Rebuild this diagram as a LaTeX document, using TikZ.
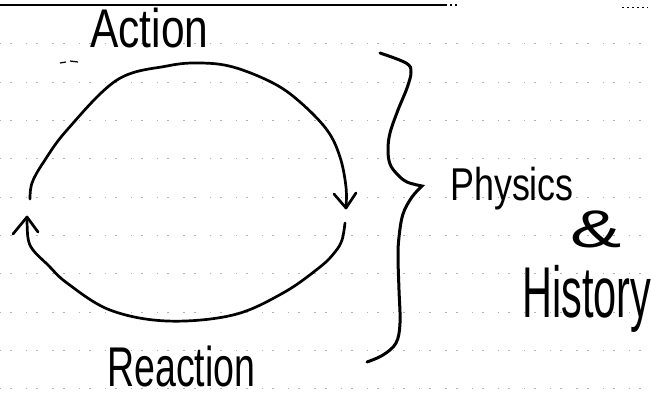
\documentclass[tikz,border=0pt]{standalone}
\usepackage{fontspec}
\setmainfont{Liberation Sans}
\tikzset{
  ink/.style={line width=2.7pt, line cap=round, line join=round, black},
  bracestroke/.style={line width=3pt, line cap=round, line join=miter, black},
  paperline/.style={black!30, line width=0.7pt, dash pattern=on 1.2pt off 9pt on 2pt off 14pt},
  word/.style={inner sep=0pt, anchor=base west},
}
\begin{document}
\begin{tikzpicture}[x=1pt,y=-1pt]
\useasboundingbox (0,0) rectangle (651,397);
% lined paper
\foreach \yy in {43,82,120,158,197,235,273,312,350,388}
  \draw[paperline] (0,\yy) -- (651,\yy);
\draw[line width=1.5pt] (0,5) -- (445,5);
\draw[line width=1.2pt, dash pattern=on 2pt off 3pt] (445,5) -- (458,5);
\draw[line width=1pt, dash pattern=on 2pt off 3pt] (622,7) -- (648,7);
\draw[line width=1.2pt] (60,63) -- (66,62) (70,61) -- (78,62);
% labels
\node[word] (action) at (90,47) {\fontsize{54.5}{60}\selectfont\scalebox{0.78}[1]{Action}};
\node[word] (reaction) at (107,386) {\fontsize{56}{60}\selectfont\scalebox{0.67}[1]{Reaction}};
\node[word] (physics) at (450,200) {\fontsize{46}{50}\selectfont\scalebox{0.78}[1]{Physics}};
\node[word] (amp) at (570,247) {\fontsize{53}{56}\selectfont\scalebox{1.45}[1]{\&}};
\node[word] (history) at (522,317) {\fontsize{72}{76}\selectfont\scalebox{0.576}[1]{History}};
% cycle
\coordinate (topstart) at (30,199);
\coordinate (topend) at (346,208);
\coordinate (botstart) at (345,223);
\coordinate (botend) at (27,217);
\draw[ink] plot[smooth, tension=0.6] coordinates {(topstart) (32,183) (43,163) (67,130) (117,80) (167,66) (200,63) (233,67) (273,83) (300,102) (327,130) (340,157) (346,187) (topend)};
\draw[ink] (334,194) -- (topend) -- (356,193);
\draw[ink] plot[smooth, tension=0.6] coordinates {(botstart) (342,240) (335,252) (320,267) (283,293) (233,315) (167,321) (110,310) (67,283) (48,265) (33,250) (28,238) (botend)};
\draw[ink] (13,234) -- (botend) -- (38,232);
% brace
\coordinate (bracetop) at (380,53);
\coordinate (bracetip) at (422,186);
\coordinate (bracebot) at (367,362);
\draw[bracestroke] plot[smooth, tension=0.6] coordinates {(bracetop) (406,63) (411,72) (407,88) (398,110) (390,133) (388,150) (390,164) (397,174) (407,182) (bracetip)}
  -- plot[smooth, tension=0.6] coordinates {(bracetip) (412,197) (403,214) (399,237) (398,257) (399,290) (400,323) (396,343) (383,355) (bracebot)};
\end{tikzpicture}
\end{document}
